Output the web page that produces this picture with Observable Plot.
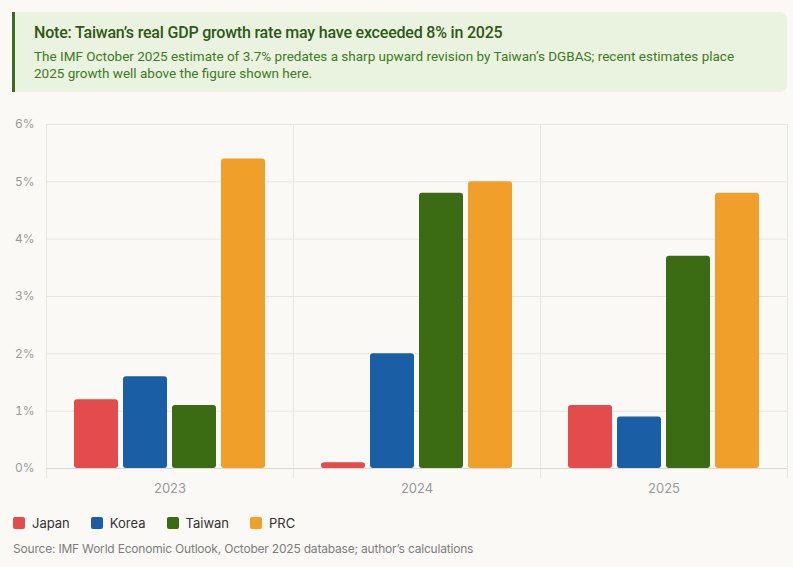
<!DOCTYPE html>
<html>
<head>
<meta charset="utf-8">
<script src="https://cdn.jsdelivr.net/npm/d3@7"></script>
<script src="https://cdn.jsdelivr.net/npm/@observablehq/plot@0.6"></script>
<style>
  html, body { margin: 0; padding: 0; background: #faf9f6; }
  body { width: 793px; height: 567px; position: relative; overflow: hidden; font-family: Inter, "Noto Sans", sans-serif; }
  .note { position: absolute; left: 12px; top: 12px; width: 775px; height: 80px; box-sizing: border-box;
          background: #e9f3df; border-left: 3px solid #3a6e1b; border-radius: 0 7px 7px 0; padding: 11px 0 0 19px; }
  .note .t { font-family: Roboto, sans-serif; font-weight: 500; font-size: 16px; line-height: 20px; color: #2d5815; letter-spacing: -0.2px; }
  .note .b { font-family: Roboto, sans-serif; font-size: 13.5px; line-height: 17px; color: #3f7a22; margin-top: 5px; letter-spacing: 0px; }
  #chart { position: absolute; left: 0; top: 100px; }
  .legend { position: absolute; left: 13px; top: 515px; display: flex; align-items: center; font-size: 13px; color: #333; }
  .legend .item { display: flex; align-items: center; margin-right: 21px; }
  .legend .sw { width: 12px; height: 12px; border-radius: 2px; margin-right: 7px; }
  .source { position: absolute; left: 13px; top: 541px; font-size: 12px; color: #7d7d7d; letter-spacing: -0.2px; }
</style>
</head>
<body>
<div class="note">
  <div class="t">Note: Taiwan’s real GDP growth rate may have exceeded 8% in 2025</div>
  <div class="b">The IMF October 2025 estimate of 3.7% predates a sharp upward revision by Taiwan’s DGBAS; recent estimates place<br>2025 growth well above the figure shown here.</div>
</div>
<div id="chart"></div>
<div class="legend" id="legend"></div>
<div class="source">Source: IMF World Economic Outlook, October 2025 database; author’s calculations</div>
<script>
const years = ["2023", "2024", "2025"];
const countries = ["Japan", "Korea", "Taiwan", "PRC"];
const colors = ["#e34b4d", "#1a5ea5", "#3b6b12", "#f09f2a"];
const japan = [1.2, 0.1, 1.1];
const korea = [1.6, 2.0, 0.9];
const taiwan = [1.1, 4.8, 3.7];
const prc = [5.4, 5.0, 4.8];
const yTicks = [0, 1, 2, 3, 4, 5, 6];

const series = [japan, korea, taiwan, prc];
const rows = years.flatMap((yr, i) => countries.map((c, j) => ({year: yr, country: c, value: series[j][i]})));

const chart = Plot.plot({
  width: 793,
  height: 400,
  marginLeft: 46,
  marginRight: 6,
  marginTop: 24,
  marginBottom: 32,
  style: {background: "transparent", fontFamily: "Inter, sans-serif", color: "#999"},
  fx: {domain: years, padding: 0, label: null},
  x: {domain: countries, paddingInner: 0.1, paddingOuter: 0.555, axis: null},
  y: {domain: [0, 6], label: null},
  color: {domain: countries, range: colors},
  marks: [
    Plot.gridY(yTicks, {stroke: "#e8e6e1", strokeOpacity: 1}),
    Plot.frame({anchor: "left", stroke: "#e8e6e1", insetBottom: -9}),
    Plot.frame({anchor: "right", stroke: "#e8e6e1", insetBottom: -9}),
    Plot.ruleY([0], {stroke: "#dcdad4"}),
    Plot.barY(rows, {fx: "year", x: "country", y: "value", fill: "country", rx: 3}),
    Plot.axisY(yTicks, {tickFormat: d => d + "%", tickSize: 0, tickPadding: 12, fontSize: 12, label: null, fill: "#999"}),
    Plot.axisFx({anchor: "bottom", tickSize: 0, tickPadding: 15, fontSize: 13, label: null, fill: "#999"})
  ]
});
document.getElementById("chart").appendChild(chart);

const legend = document.getElementById("legend");
countries.forEach((c, i) => {
  const item = document.createElement("div");
  item.className = "item";
  const sw = document.createElement("div");
  sw.className = "sw";
  sw.style.background = colors[i];
  const label = document.createElement("span");
  label.textContent = c;
  item.appendChild(sw);
  item.appendChild(label);
  legend.appendChild(item);
});
</script>
</body>
</html>
